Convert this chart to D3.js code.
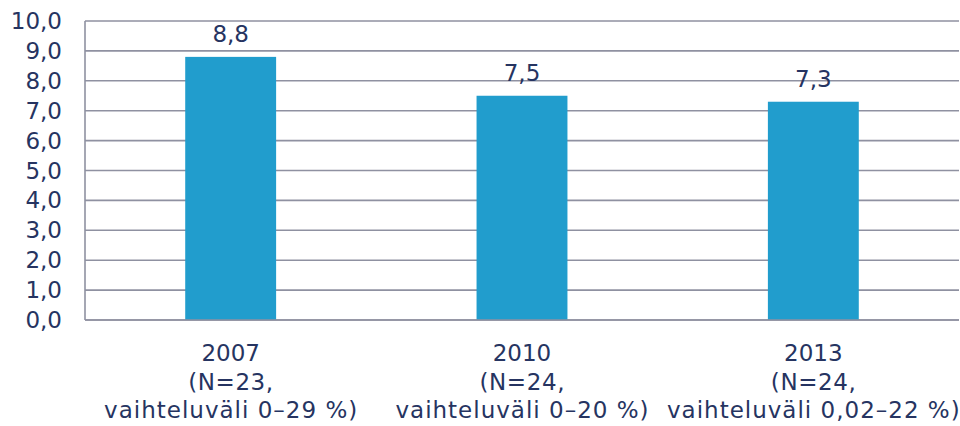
<!DOCTYPE html>
<html>
<head>
<meta charset="utf-8">
<script src="https://cdn.jsdelivr.net/npm/d3@7.9.0/dist/d3.min.js"></script>
<style>
  body { margin: 0; background: #fff; }
  svg text { font-family: "DejaVu Sans", Verdana, sans-serif; fill: #263461; }
</style>
</head>
<body>
<svg id="chart" width="960" height="426"></svg>
<script>
const years = ['2007', '2010', '2013'];
const nLabels = ['(N=23,', '(N=24,', '(N=24,'];
const rangeLabels = ['vaihteluväli 0–29 %)', 'vaihteluväli 0–20 %)', 'vaihteluväli 0,02–22 %)'];
const values = [8.8, 7.5, 7.3];
const yTicks = [0, 1, 2, 3, 4, 5, 6, 7, 8, 9, 10];

const margin = {top: 21, right: 1, bottom: 106, left: 85};
const width = 960, height = 426;
const fontSize = 23;

const svg = d3.select('#chart');
const fmt = (d) => d.toFixed(1).replace('.', ',');

let x = d3.scaleBand()
  .domain(years)
  .range([margin.left, width - margin.right])
  .paddingInner(0.688)
  .paddingOuter(0.344);

let y = d3.scaleLinear()
  .domain([0, 10])
  .range([height - margin.bottom, margin.top]);

// gridlines
svg.append('g')
  .selectAll('line')
  .data(yTicks)
  .join('line')
  .attr('x1', margin.left)
  .attr('x2', width - margin.right)
  .attr('y1', (d) => y(d))
  .attr('y2', (d) => y(d))
  .attr('stroke', '#8f91a1')
  .attr('stroke-width', 1.6);

// left axis line
svg.append('line')
  .attr('x1', margin.left).attr('x2', margin.left)
  .attr('y1', y(10)).attr('y2', y(0))
  .attr('stroke', '#8f91a1')
  .attr('stroke-width', 1.6);

// bars
svg.append('g')
  .selectAll('rect')
  .data(values)
  .join('rect')
  .attr('x', (d, i) => x(years[i]))
  .attr('width', x.bandwidth())
  .attr('y', (d) => y(d))
  .attr('height', (d) => y(0) - y(d))
  .attr('fill', '#219dcd');

// baseline over bars
svg.append('line')
  .attr('x1', margin.left).attr('x2', width - margin.right)
  .attr('y1', y(0)).attr('y2', y(0))
  .attr('stroke', '#8f91a1')
  .attr('stroke-width', 1.6);

// value labels
svg.append('g')
  .selectAll('text')
  .data(values)
  .join('text')
  .attr('x', (d, i) => x(years[i]) + x.bandwidth() / 2)
  .attr('y', (d) => y(d) - 15)
  .attr('text-anchor', 'middle')
  .attr('font-size', fontSize)
  .text((d) => fmt(d));

// y tick labels
svg.append('g')
  .selectAll('text')
  .data(yTicks)
  .join('text')
  .attr('x', 62)
  .attr('y', (d) => y(d) + 8)
  .attr('text-anchor', 'end')
  .attr('font-size', fontSize)
  .text((d) => fmt(d));

// x category labels, three lines each
const spacing = [0, 0.6, 1];
years.forEach((yr, i) => {
  let cx = x(yr) + x.bandwidth() / 2;
  [yr, nLabels[i], rangeLabels[i]].forEach((line, j) => {
    svg.append('text')
      .attr('x', cx + spacing[j] / 2)
      .attr('y', 361 + j * 28.5)
      .attr('text-anchor', 'middle')
      .attr('font-size', fontSize)
      .attr('letter-spacing', spacing[j])
      .text(line);
  });
});
</script>
</body>
</html>
